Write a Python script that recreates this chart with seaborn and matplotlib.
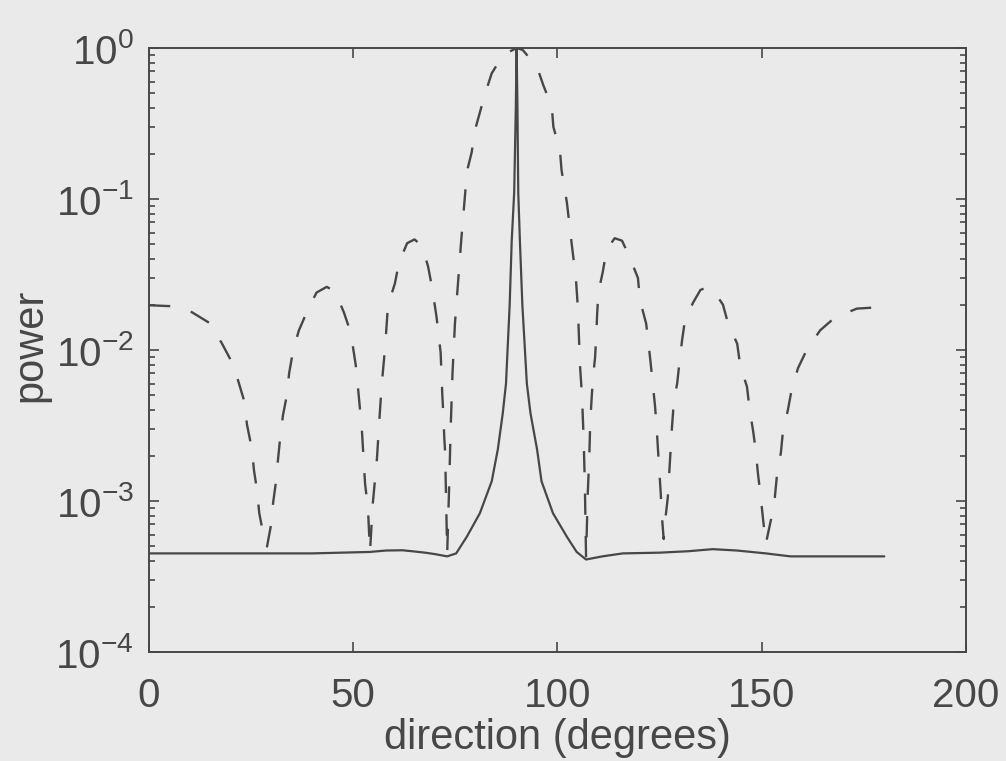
import numpy as np
import pandas as pd
import matplotlib
matplotlib.use("Agg")
import matplotlib.pyplot as plt
import seaborn as sns

# solid curve: narrow beam pattern
solid_deg = [0, 20, 40, 54, 58, 62, 64.4, 67.6, 70, 73, 75.2, 77.8, 81.0, 83.9,
             85.4, 86.6, 87.4, 88.3, 88.8, 89.4, 89.8, 90.0, 90.2, 90.4, 90.8,
             91.4, 92.5, 93.4, 95.0, 96.1, 98.9, 102.3, 104.7, 107, 111, 116,
             125, 132, 138, 144, 151, 157, 165, 180]
solid_pow = [4.5e-4, 4.5e-4, 4.5e-4, 4.6e-4, 4.7e-4, 4.72e-4, 4.65e-4, 4.55e-4,
             4.45e-4, 4.3e-4, 4.5e-4, 5.8e-4, 8.3e-4, 1.35e-3, 2.2e-3, 3.8e-3,
             6.0e-3, 2.0e-2, 5.3e-2, 0.11, 0.4, 1.0, 0.4, 0.11, 5.3e-2, 2.0e-2,
             6.0e-3, 3.8e-3, 2.2e-3, 1.35e-3, 8.3e-4, 5.8e-4, 4.6e-4, 4.1e-4,
             4.3e-4, 4.5e-4, 4.55e-4, 4.65e-4, 4.8e-4, 4.7e-4, 4.5e-4, 4.3e-4,
             4.3e-4, 4.3e-4]

# dashed curve: conventional beam pattern with sidelobes
dash_deg = [0, 5.6, 10.5, 15, 17.9, 20.3, 21.8, 23.2, 24.0, 25.2, 25.7, 26.4,
            27.0, 28.0, 28.9, 29.9, 30.4, 31.1, 31.6, 32.1, 32.8, 33.8, 34.3,
            35.3, 36.7, 38.7, 41.0, 43.5, 45.5, 47.7, 49.4, 50.6, 51.2, 52.1,
            52.9, 53.6, 54.1, 54.8, 55.8, 56.5, 57.0, 57.8, 58.5, 60.2, 61.2,
            63.2, 65.0, 66.8, 68.3, 69.3, 70.4, 71.4, 71.8, 72.0, 72.3, 72.5,
            72.7, 73.0, 73.5, 73.85, 74.3, 74.9, 75.7, 76.1, 76.5, 77.4, 77.8,
            79.0, 79.8, 82.3, 83.9, 86.7, 90.0, 91.5, 95.0, 96.5, 98.6, 99.0,
            100.6, 101.0, 102.3, 103.5, 104.5, 105.0, 105.5, 106.0, 106.4,
            106.7, 107.0, 107.4, 107.8, 108.0, 108.4, 108.8, 109.2, 109.5,
            109.7, 110.0, 111.1, 112.0, 114.0, 115.8, 117.7, 119.7, 120.2,
            121.7, 122.3, 123.1, 123.9, 124.3, 124.6, 125.0, 125.3, 125.6,
            126.0, 126.5, 127.0, 127.5, 128.0, 128.5, 129.3, 129.8, 130.5,
            131.2, 133.2, 135.0, 136.6, 138.5, 140.5, 141.7, 144.0, 144.7,
            146.4, 147.0, 147.9, 148.5, 149.1, 149.7, 150.3, 151.0, 152.3,
            153.2, 153.7, 154.7, 155.2, 156.4, 157.4, 158.9, 161.0, 164.3,
            168.0, 173.3, 180.0]
dash_pow = [0.0198, 0.0195, 0.0178, 0.0150, 0.0110, 0.0083, 0.0063, 0.0047,
            0.0032, 0.0022, 0.0016, 0.0012, 8.3e-4, 6.0e-4, 5.0e-4, 7.0e-4,
            9.8e-4, 1.35e-3, 1.9e-3, 2.6e-3, 3.7e-3, 5.1e-3, 7.0e-3, 0.0100,
            0.0135, 0.0180, 0.0240, 0.0262, 0.0245, 0.0178, 0.0130, 0.0080,
            0.0055, 0.0030, 0.0013, 9.0e-4, 4.6e-4, 9.7e-4, 1.9e-3, 3.8e-3,
            6.0e-3, 0.0104, 0.0197, 0.0276, 0.038, 0.051, 0.054, 0.049, 0.036,
            0.026, 0.0165, 0.0096, 0.0051, 0.0040, 0.0026, 0.0021, 0.0011,
            4.5e-4, 1.3e-3, 3.0e-3, 7.0e-3, 0.015, 0.029, 0.040, 0.056, 0.109,
            0.151, 0.204, 0.286, 0.50, 0.68, 0.90, 1.0, 0.97, 0.75, 0.57, 0.41,
            0.30, 0.21, 0.155, 0.095, 0.05, 0.030, 0.019, 0.008, 0.0050,
            0.0026, 0.0013, 4.2e-4, 1.1e-3, 2.0e-3, 3.2e-3, 5.0e-3, 7.0e-3,
            8.9e-3, 0.0125, 0.0170, 0.024, 0.033, 0.046, 0.055, 0.053, 0.041,
            0.030, 0.0214, 0.015, 0.011, 0.0069, 0.0042, 0.0030, 0.0022,
            0.0015, 0.0011, 7.7e-4, 5.6e-4, 8.0e-4, 1.05e-3, 1.8e-3, 3.0e-3,
            4.6e-3, 6.0e-3, 8.0e-3, 0.0116, 0.0157, 0.0206, 0.025, 0.026,
            0.024, 0.020, 0.0152, 0.011, 0.008, 0.0057, 0.0041, 0.0029, 0.0022,
            0.0015, 0.0011, 7.7e-4, 5.2e-4, 7.6e-4, 1.05e-3, 1.45e-3, 2.1e-3,
            2.9e-3, 4.0e-3, 5.6e-3, 7.6e-3, 0.0100, 0.0135, 0.0165, 0.0188,
            0.0193]

x_ticks = [0, 50, 100, 150, 200]

solid = pd.DataFrame({"direction": solid_deg, "power": solid_pow})
dashed = pd.DataFrame({"direction": dash_deg, "power": dash_pow})

sns.set_theme(style="ticks")
plt.rcParams["font.family"] = ["Liberation Sans", "DejaVu Sans"]
plt.rcParams["mathtext.fontset"] = "custom"
plt.rcParams["mathtext.rm"] = "Liberation Sans"
plt.rcParams["mathtext.it"] = "Liberation Sans:italic"
plt.rcParams["mathtext.bf"] = "Liberation Sans:bold"

bg = "#eaeaea"
ink = "#474747"

fig = plt.figure(figsize=(10.06, 7.61), dpi=100, facecolor=bg)
ax = fig.add_axes([0.1481, 0.1432, 0.8121, 0.7937], facecolor=bg)

sns.lineplot(data=dashed, x="direction", y="power", ax=ax, color=ink,
             linewidth=1.7, linestyle=(0, (9, 9)), sort=False, estimator=None)
sns.lineplot(data=solid, x="direction", y="power", ax=ax, color=ink,
             linewidth=1.6, sort=False, estimator=None)

ax.set_yscale("log")
ax.set_xlim(0, 200)
ax.set_ylim(1e-4, 1)
ax.set_xticks(x_ticks)

for s in ax.spines.values():
    s.set_visible(True)
    s.set_linewidth(1.4)
    s.set_color(ink)

ax.tick_params(which="both", direction="in", top=True, right=True,
               color=ink, labelcolor=ink, width=1.2)
ax.tick_params(which="major", length=7, labelsize=29)
ax.tick_params(which="minor", length=4.5)
ax.tick_params(axis="x", which="major", pad=18)
ax.tick_params(axis="y", which="major", pad=11)
ax.xaxis.set_minor_locator(plt.NullLocator())

ax.set_xlabel("direction (degrees)", fontsize=30, color=ink)
ax.set_ylabel("power", fontsize=30, color=ink)
ax.xaxis.set_label_coords(0.5, -0.110)
ax.yaxis.set_label_coords(-0.121, 0.508)

fig.savefig("out.png", dpi=100, facecolor=bg)
